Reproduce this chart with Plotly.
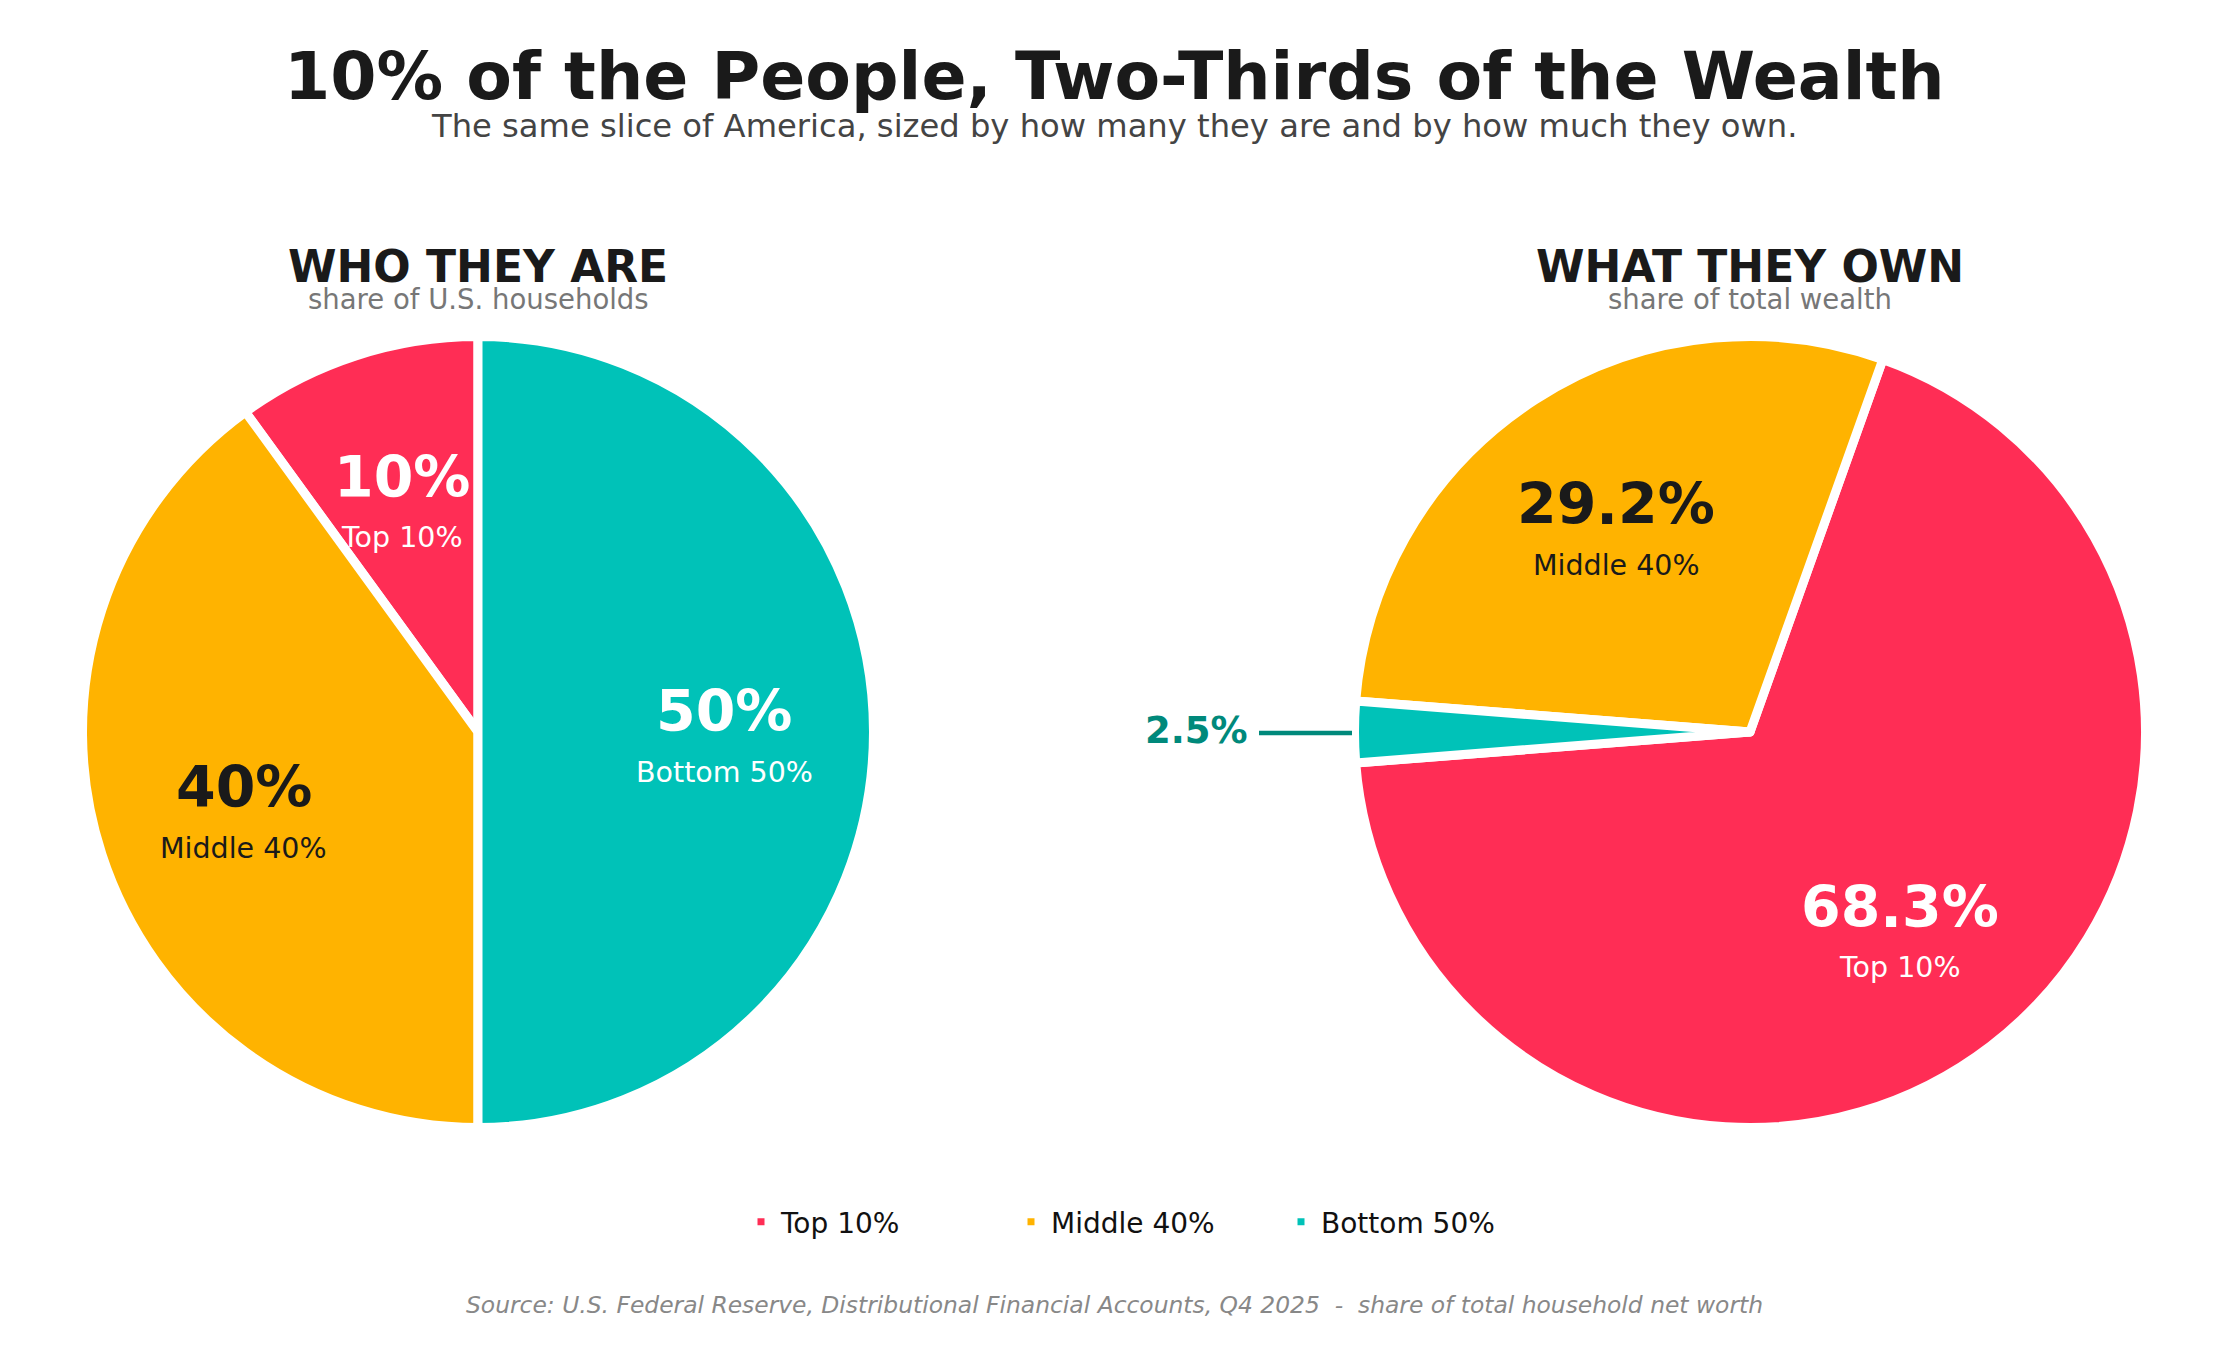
import math
import plotly.graph_objects as go

# data
groups = ["Top 10%", "Middle 40%", "Bottom 50%"]
household_share = [10, 40, 50]
wealth_share = [68.3, 29.2, 2.5]
colors = ["#FF2D55", "#FFB300", "#00C2B8"]
label_colors = ["white", "#1a1a1a", "white"]

# layout geometry, in screen px (page has an 8px body margin)
PAGE_W, PAGE_H, OFF = 2228, 1366, 8
W, H = PAGE_W - 2 * OFF, PAGE_H - 2 * OFF
FONT = "DejaVu Sans"
EDGE = 9  # white slice border
R = 391  # visible pie radius
CY = 732  # pie centre from top
CX = [478, 1750]


def paper(px, py):
    return (px - OFF) / W, 1 - (py - OFF) / H


def domain(cx):
    r = R + EDGE / 2
    x0, y0 = paper(cx - r, CY + r)
    x1, y1 = paper(cx + r, CY - r)
    return dict(x=[x0, x1], y=[y0, y1])


def mid_angles(values, start_cw):
    # slices run counterclockwise from start_cw (degrees clockwise from 12 o'clock)
    total = sum(values)
    out, acc = [], 90 - start_cw
    for v in values:
        span = v / total * 360
        out.append(acc + span / 2)
        acc += span
    return out


# left pie starts at 12 o'clock; right pie keeps the bottom slice centred at 9 o'clock
starts = [0, 90 - (180 + wealth_share[2] / sum(wealth_share) * 180)]
series = [household_share, wealth_share]

fig = go.Figure()
for i, vals in enumerate(series):
    # plotly's counterclockwise pies put the first slice clockwise of `rotation`
    rot = starts[i] - vals[0] / sum(vals) * 360
    fig.add_trace(
        go.Pie(
            labels=groups,
            values=vals,
            marker=dict(colors=colors, line=dict(color="white", width=EDGE)),
            sort=False,
            direction="counterclockwise",
            rotation=rot,
            textinfo="none",
            hoverinfo="skip",
            domain=domain(CX[i]),
            showlegend=(i == 0),
        )
    )

annotations = []


def text(px, py, s, size, color, xanchor="center"):
    x, y = paper(px, py)
    annotations.append(dict(
        x=x, y=y, xref="paper", yref="paper", xanchor=xanchor, yanchor="middle",
        showarrow=False, text=s, font=dict(family=FONT, size=size, color=color),
    ))


# slice labels
for i, vals in enumerate(series):
    for j, (v, a) in enumerate(zip(vals, mid_angles(vals, starts[i]))):
        if v / sum(vals) < 0.05:
            continue
        px = CX[i] + 0.63 * R * math.cos(math.radians(a))
        py = CY - 0.63 * R * math.sin(math.radians(a))
        text(px, py - 21, f"<b>{v:g}%</b>", 57, label_colors[j])
        text(px, py + 40, groups[j], 28.5, label_colors[j])

# small slice callout
x0, y0 = paper(CX[1] - R - 100, CY + 1)
x1, _ = paper(CX[1] - R - 7, CY + 1)
fig.add_shape(type="line", xref="paper", yref="paper", x0=x0, x1=x1, y0=y0, y1=y0,
              line=dict(color="#00897B", width=4.5))
text(CX[1] - R - 109, CY - 2, f"<b>{wealth_share[2]:g}%</b>", 37, "#00897B", xanchor="right")

# titles
text(PAGE_W / 2, 76, "<b>10% of the People, Two-Thirds of the Wealth</b>", 66.5, "#1a1a1a")
text(PAGE_W / 2, 126, "The same slice of America, sized by how many they are and by how much they own.",
     32.2, "#444444")
text(CX[0], 266, "<b>WHO THEY ARE</b>", 44, "#1a1a1a")
text(CX[0], 299, "share of U.S. households", 27.5, "#777777")
text(CX[1], 266, "<b>WHAT THEY OWN</b>", 44, "#1a1a1a")
text(CX[1], 299, "share of total wealth", 27.5, "#777777")
text(PAGE_W / 2, 1305,
     "<i>Source: U.S. Federal Reserve, Distributional Financial Accounts, Q4 2025  -  share of total household net worth</i>",
     23.4, "#888888")

lx, ly = paper(741, 1222)
fig.update_layout(
    width=W,
    height=H,
    margin=dict(l=0, r=0, t=0, b=0),
    paper_bgcolor="white",
    plot_bgcolor="white",
    annotations=annotations,
    legend=dict(
        orientation="h", x=lx, xanchor="left", y=ly, yanchor="middle",
        font=dict(family=FONT, size=28, color="#111111"),
        traceorder="normal", entrywidth=225,
    ),
)

fig.write_html("out.html")
